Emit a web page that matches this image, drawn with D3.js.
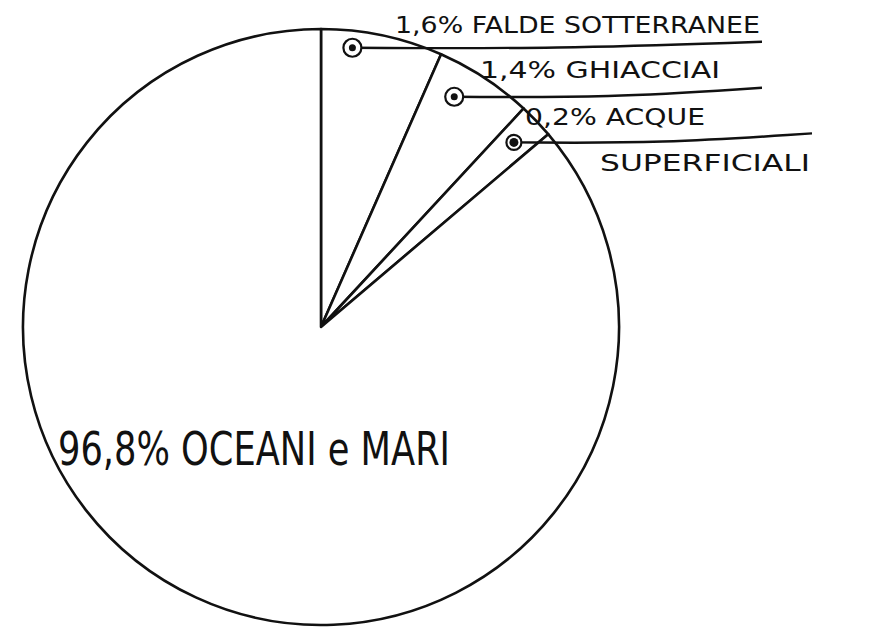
<!DOCTYPE html>
<html>
<head>
<meta charset="utf-8">
<script src="https://cdn.jsdelivr.net/npm/d3@7"></script>
<style>
body{margin:0;background:#fff;}
text{font-family:"DejaVu Sans",sans-serif;fill:#111;}
text.big{font-family:"Liberation Sans Narrow","DejaVu Sans Condensed",sans-serif;}
</style>
</head>
<body>
<svg id="chart" width="892" height="633"></svg>
<script>
'use strict';

// labelled shares of Earth's water (percent)
var labels=['OCEANI e MARI','FALDE SOTTERRANEE','GHIACCIAI','ACQUE SUPERFICIALI']
  , percent=[96.8,1.6,1.4,0.2]
  // the sketch is not to scale: share of the circle each wedge is drawn with
  , drawnShare=[86.2,6.6,5.3,1.9]

var svg=d3.select('#chart')
  , cx=321
  , cy=327
  , r=298
  , ink='#111'

var fmt=function(v){return String(v.toFixed(1)).replace('.',',')+'%';};

// small slices first going clockwise from 12 o'clock, ocean fills the rest
var order=[1,2,3,0]
  , pie=d3.pie().sort(null).value(function(i){return drawnShare[i];})
  , arcs=pie(order)
  , arc=d3.arc().innerRadius(0).outerRadius(r)

var g=svg.append('g').attr('transform','translate('+cx+','+cy+')');

g.selectAll('path.slice')
    .data(arcs)
  .enter().append('path')
    .attr('class','slice')
    .attr('d',arc)
    .attr('fill','#fff')
    .attr('stroke',ink)
    .attr('stroke-width',2.6)
    .attr('stroke-linejoin','round');

// callouts for the three small slices
var callFrac=[0.27,0.33,0.5]
  , callR=[281,266,267]
  , lineEnd=[762,762,812]
  , lineRise=[-6,-9,-9]
  , textX=[395,480,525]
  , textY=[33,78,125]
  , textW=[365,240,180]

var small=arcs.slice(0,3);

small.forEach(function(a,k){
    var ang=a.startAngle+callFrac[k]*(a.endAngle-a.startAngle)
      , mx=callR[k]*Math.sin(ang)
      , my=-callR[k]*Math.cos(ang)
      , ex=lineEnd[k]-cx
      , ey=my+lineRise[k]

    g.append('path')
        .attr('d',d3.line().curve(d3.curveBasis)([[mx,my],[(mx+ex)/2,my+1],[ex,ey]]))
        .attr('fill','none')
        .attr('stroke',ink)
        .attr('stroke-width',2.4);
    g.append('circle')
        .attr('cx',mx).attr('cy',my)
        .attr('r',k==2?7.5:9)
        .attr('fill','#fff')
        .attr('stroke',ink)
        .attr('stroke-width',2.2);
    g.append('circle')
        .attr('cx',mx).attr('cy',my)
        .attr('r',k==2?4.5:3.5)
        .attr('fill',ink);

    var i=a.data
      , t=k==2?fmt(percent[i])+' ACQUE':fmt(percent[i])+' '+labels[i]

    svg.append('text')
        .attr('x',textX[k])
        .attr('y',textY[k])
        .attr('font-size',23)
        .attr('textLength',textW[k])
        .attr('lengthAdjust','spacingAndGlyphs')
        .text(t);
});

svg.append('text')
    .attr('x',600)
    .attr('y',171)
    .attr('font-size',23)
    .attr('textLength',210)
    .attr('lengthAdjust','spacingAndGlyphs')
    .text('SUPERFICIALI');

// big slice label
svg.append('text')
    .attr('class','big')
    .attr('x',58)
    .attr('y',465)
    .attr('font-size',47)
    .attr('textLength',392)
    .attr('lengthAdjust','spacingAndGlyphs')
    .text(fmt(percent[0])+' '+labels[0]);
</script>
</body>
</html>
